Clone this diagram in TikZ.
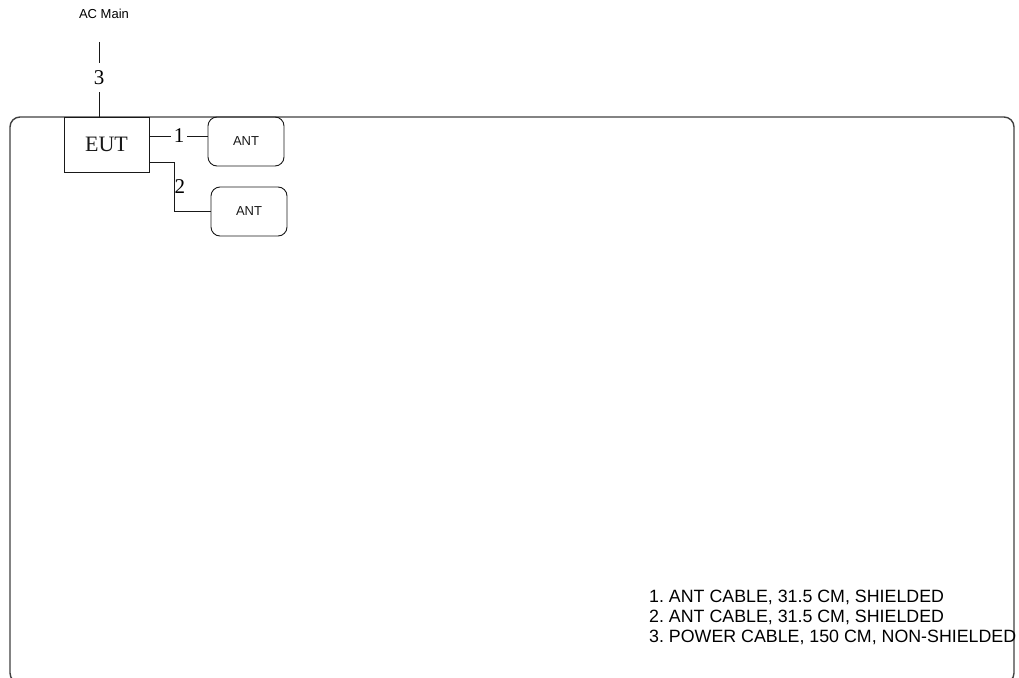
\documentclass[tikz,border=0pt]{standalone}
\usepackage{fontspec}
\setmainfont{Liberation Serif}
\setsansfont{Liberation Sans}
\frenchspacing
\begin{document}
\begin{tikzpicture}[x=1pt,y=-1pt,
  line/.style={line width=0.9pt, black!90},
  frame/.style={draw=black!75, line width=1.4pt, rounded corners=10pt},
  eutbox/.style={draw, line width=0.9pt, black!90, minimum width=85pt, minimum height=55pt, inner sep=0pt, font=\fontsize{22}{24}\selectfont\rmfamily},
  antbox/.style={draw, line width=0.9pt, black!90, rounded corners=9pt, minimum width=76pt, minimum height=49pt, inner sep=0pt, font=\fontsize{13}{15}\selectfont\sffamily},
  num/.style={inner xsep=3pt, inner ysep=0pt, font=\fontsize{21}{23}\selectfont\rmfamily},
  legend/.style={anchor=base west, inner sep=0pt, font=\fontsize{17.8}{20}\selectfont\sffamily}
]
\useasboundingbox (0,0) rectangle (1019,677);
\draw[frame] (10,117) rectangle (1014,683);
\node[eutbox] (eut) at (106.5,144.5) {EUT};
\node[antbox] (ant1) at (246,141.5) {ANT};
\node[antbox] (ant2) at (249,211.5) {ANT};
\node[inner sep=0pt, font=\fontsize{13}{15}\selectfont\sffamily] (ac) at (104,14) {AC Main};
\coordinate (acend) at (99,42);
\node[num, minimum height=29pt] (n3) at (99,77.5) {3};
\node[num] (n1) at (179,136) {1};
\node[num, anchor=west, inner xsep=0pt] (n2) at (174.5,187) {2};
\draw[line] (acend) -- (n3.north);
\draw[line] (n3.south) -- (n3.south |- eut.north);
\draw[line] (n1.west -| eut.east) -- (n1.west);
\draw[line] (n1.east) -- (n1.east -| ant1.west);
\draw[line] ([yshift=10pt]eut.south east) -| (n2.west |- ant2.west) -- (ant2.west);
\node[legend] (l1) at (649,602) {1. ANT CABLE, 31.5 CM, SHIELDED};
\node[legend] (l2) at (649,622) {2. ANT CABLE, 31.5 CM, SHIELDED};
\node[legend] (l3) at (649,642) {3. POWER CABLE, 150 CM, NON-SHIELDED};
\end{tikzpicture}
\end{document}
